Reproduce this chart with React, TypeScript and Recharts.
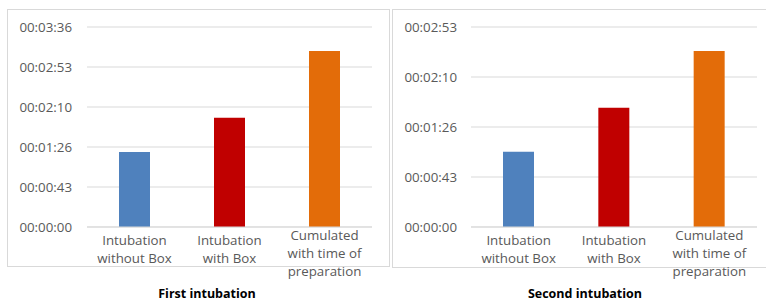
import React from 'react';
import { BarChart, Bar, XAxis, YAxis, CartesianGrid, Cell } from 'recharts';

const categories = ['Intubation without Box', 'Intubation with Box', 'Cumulated with time of preparation'];
const categoryLines = [
  ['Intubation', 'without Box'],
  ['Intubation', 'with Box'],
  ['Cumulated', 'with time of', 'preparation'],
];
const barColors = ['#4F81BD', '#C00000', '#E36C09'];

// values in seconds
const firstValues = [81, 118, 190];
const secondValues = [65, 103, 152];

const firstTicks = [0, 43.2, 86.4, 129.6, 172.8, 216];
const secondTicks = [0, 43.2, 86.4, 129.6, 172.8];

const titles = ['First intubation', 'Second intubation'];

const FONT = '"Open Sans", sans-serif';

function fmt(v: number): string {
  const s = Math.round(v);
  const h = Math.floor(s / 3600);
  const m = Math.floor((s % 3600) / 60);
  const sec = s % 60;
  return [h, m, sec].map((n) => String(n).padStart(2, '0')).join(':');
}

const CatTick = (props: any) => {
  const { x, y, payload } = props;
  const idx = categories.indexOf(payload.value);
  const lines = categoryLines[idx] || [payload.value];
  const first = lines.length >= 3 ? 12.5 : 17.5;
  return (
    <text x={x} y={y} textAnchor="middle" fill="#595959" fontSize={13.3} fontFamily={FONT}>
      {lines.map((l, i) => (
        <tspan key={i} x={x} y={y + first + i * 18}>
          {l}
        </tspan>
      ))}
    </text>
  );
};

type PanelProps = {
  values: number[];
  ticks: number[];
  left: number;
  width: number;
  yWidth: number;
  marginRight: number;
  tickMargin: number;
};

const Panel = ({ values, ticks, left, width, yWidth, marginRight, tickMargin }: PanelProps) => {
  const data = categories.map((c, i) => ({ name: c, value: values[i] }));
  return (
    <div style={{ position: 'absolute', left, top: 0 }}>
      <BarChart
        width={width}
        height={301}
        data={data}
        margin={{ top: 27, right: marginRight, left: 0, bottom: 0 }}
      >
        <CartesianGrid vertical={false} stroke="#D9D9D9" />
        <XAxis
          dataKey="name"
          height={74}
          axisLine={{ stroke: '#D9D9D9' }}
          tickLine={false}
          tickSize={0}
          tickMargin={0}
          interval={0}
          tick={<CatTick />}
        />
        <YAxis
          type="number"
          width={yWidth}
          domain={[0, ticks[ticks.length - 1]]}
          ticks={ticks}
          interval={0}
          axisLine={false}
          tickLine={false}
          tickSize={0}
          tickMargin={tickMargin}
          tickFormatter={fmt}
          tick={{ fill: '#595959', fontSize: 13.3, fontFamily: FONT }}
        />
        <Bar dataKey="value" barSize={31} isAnimationActive={false}>
          {data.map((d, i) => (
            <Cell key={i} fill={barColors[i]} />
          ))}
        </Bar>
      </BarChart>
    </div>
  );
};

export default function App() {
  return (
    <div
      style={{
        position: 'absolute',
        left: 0,
        top: 0,
        width: 766,
        height: 301,
        background: '#fff',
        overflow: 'hidden',
        fontFamily: FONT,
      }}
    >
      <div
        style={{
          position: 'absolute',
          left: 7,
          top: 9,
          width: 383,
          height: 258,
          border: '1px solid #D9D9D9',
          boxSizing: 'border-box',
        }}
      />
      <div
        style={{
          position: 'absolute',
          left: 392,
          top: 9,
          width: 380,
          height: 259,
          border: '1px solid #D9D9D9',
          boxSizing: 'border-box',
        }}
      />
      <Panel values={firstValues} ticks={firstTicks} left={0} width={390} yWidth={87} marginRight={18} tickMargin={15} />
      <Panel values={secondValues} ticks={secondTicks} left={390} width={376} yWidth={81} marginRight={9} tickMargin={14} />
      <div
        style={{
          position: 'absolute',
          left: 107,
          top: 286,
          width: 200,
          textAlign: 'center',
          fontWeight: 700,
          fontSize: 12.5,
          lineHeight: '16px',
          color: '#000',
        }}
      >
        {titles[0]}
      </div>
      <div
        style={{
          position: 'absolute',
          left: 485,
          top: 286,
          width: 200,
          textAlign: 'center',
          fontWeight: 700,
          fontSize: 12.5,
          lineHeight: '16px',
          color: '#000',
        }}
      >
        {titles[1]}
      </div>
    </div>
  );
}
